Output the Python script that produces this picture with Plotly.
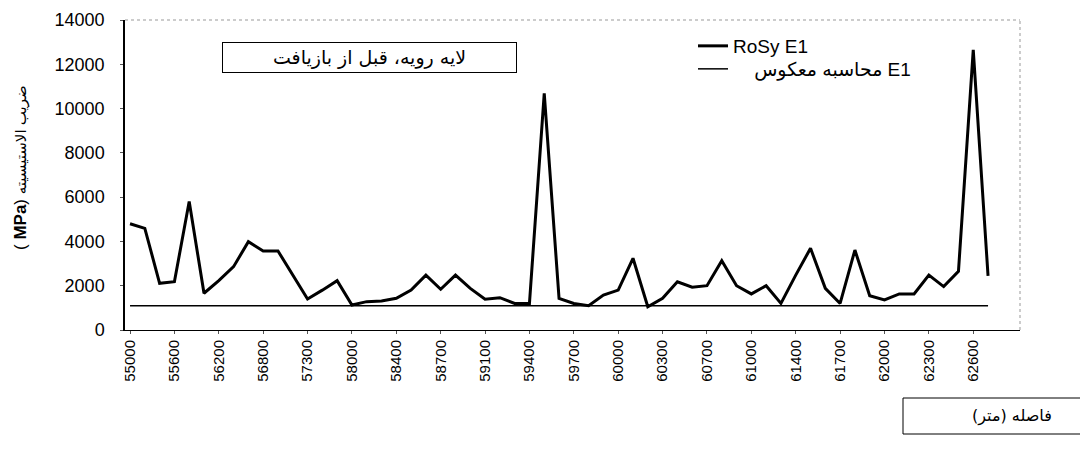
import plotly.graph_objects as go

# distance categories (m); every third one is labelled on the axis
distances = [55000, 55200, 55400, 55600, 55800, 56000, 56200, 56400, 56600, 56800,
             56900, 57100, 57300, 57500, 57800, 58000, 58100, 58300, 58400, 58500,
             58600, 58700, 58800, 59000, 59100, 59200, 59300, 59400, 59500, 59600,
             59700, 59800, 59900, 60000, 60100, 60200, 60300, 60400, 60600, 60700,
             60800, 60900, 61000, 61100, 61300, 61400, 61500, 61600, 61700, 61800,
             61900, 62000, 62100, 62200, 62300, 62400, 62500, 62600, 62700]
categories = [str(d) for d in distances]

# RoSy E1 modulus (MPa)
rosy_e1 = [4800, 4590, 2110, 2180, 5800, 1660, 2230, 2860, 3990, 3570,
           3570, 2480, 1400, 1800, 2230, 1130, 1280, 1310, 1430, 1800,
           2480, 1840, 2480, 1880, 1390, 1460, 1200, 1200, 10690, 1430,
           1200, 1100, 1580, 1800, 3240, 1050, 1430, 2180, 1930, 2000,
           3130, 2000, 1630, 2000, 1200, 2480, 3690, 1880, 1200, 3610,
           1550, 1355, 1630, 1630, 2480, 1960, 2650, 12650, 2440]

# back-calculated E1 (MPa)
back_e1 = [1100] * len(categories)

tick_labels = categories[::3]
y_ticks = list(range(0, 14001, 2000))

font_main = "Liberation Sans, Arial, DejaVu Sans, sans-serif"
font_fa = "DejaVu Sans, sans-serif"

# page offset (body margin of the html page)
OFF = 8
PAGE_W, PAGE_H = 1088, 451
W, H = PAGE_W - OFF, PAGE_H - OFF
# plot area in page pixels
X0, X1, Y0, Y1 = 125, 1020, 20, 330
L, R, T, B = X0 - OFF, PAGE_W - X1, Y0 - OFF, PAGE_H - Y1
pw, ph = X1 - X0, Y1 - Y0

def px(x):
    return (x - X0) / pw

def py(y):
    return (Y1 - y) / ph

fig = go.Figure()
fig.add_trace(go.Scatter(x=categories, y=rosy_e1, mode="lines",
                         line=dict(color="black", width=3), name="RoSy E1",
                         legend="legend"))
fig.add_trace(go.Scatter(x=categories, y=back_e1, mode="lines",
                         line=dict(color="black", width=1.5),
                         name="\u00a0\u00a0\u00a0\u00a0محاسبه معکوس E1",
                         legend="legend2"))

leg_common = dict(xanchor="left", yanchor="middle", bgcolor="rgba(0,0,0,0)",
                  borderwidth=0)

fig.update_layout(
    width=W, height=H,
    margin=dict(l=L, r=R, t=T, b=B, autoexpand=False),
    paper_bgcolor="white", plot_bgcolor="white",
    font=dict(family=font_main, color="black"),
    showlegend=True,
    legend=dict(x=px(693), y=py(46), font=dict(size=19, family=font_main), **leg_common),
    legend2=dict(x=px(693), y=py(69), font=dict(size=19, family=font_main), **leg_common),
    xaxis=dict(type="category", range=[-0.34, 60.16], showgrid=False,
               tickmode="array", tickvals=tick_labels, ticktext=tick_labels,
               tickangle=-90, tickfont=dict(size=15, family=font_main),
               showline=True, linecolor="black", linewidth=1,
               ticks="outside", ticklen=3, tickcolor="#555", ticklabelstandoff=0,
               zeroline=False, automargin=False),
    yaxis=dict(range=[0, 14000], showgrid=False, tickmode="array",
               tickvals=y_ticks, ticktext=[str(v) for v in y_ticks],
               tickfont=dict(size=18, family=font_main),
               showline=True, linecolor="black", linewidth=1.5,
               ticks="outside", ticklen=3, tickcolor="#555", ticklabelstandoff=12,
               zeroline=False, automargin=False),
)

# light dotted top and right frame
fig.add_shape(type="line", xref="paper", yref="paper", x0=0, x1=1, y0=1, y1=1,
              line=dict(color="#999", width=1, dash="dot"))
fig.add_shape(type="line", xref="paper", yref="paper", x0=1, x1=1, y0=0, y1=1,
              line=dict(color="#999", width=1, dash="dot"))

# title box inside plot
fig.add_annotation(xref="paper", yref="paper", x=px(369.5), y=py(57.5),
                   text="لایه رویه، قبل از بازیافت", showarrow=False,
                   font=dict(size=19, family=font_fa),
                   bordercolor="black", borderwidth=1, width=291, height=27,
                   xanchor="center", yanchor="middle")

# y axis title
fig.add_annotation(xref="paper", yref="paper", x=px(20), y=py(168),
                   text="( <b>MPa</b>) <span style='font-size:15px'>ضریب الاستیسیته</span>",
                   textangle=-90, showarrow=False, font=dict(size=17, family=font_main),
                   xanchor="center", yanchor="middle")

# x axis title box at bottom right
fig.add_shape(type="line", xref="paper", yref="paper", x0=px(903), x1=px(1100),
              y0=py(398), y1=py(398), line=dict(color="black", width=1))
fig.add_shape(type="line", xref="paper", yref="paper", x0=px(903), x1=px(903),
              y0=py(398), y1=py(434), line=dict(color="black", width=1))
fig.add_shape(type="line", xref="paper", yref="paper", x0=px(903), x1=px(1100),
              y0=py(434), y1=py(434), line=dict(color="black", width=1))
fig.add_annotation(xref="paper", yref="paper", x=px(1012), y=py(416),
                   text="\u200fفاصله (متر)\u200f", showarrow=False,
                   font=dict(size=16, family=font_fa),
                   xanchor="center", yanchor="middle")

fig.write_html("out.html")
